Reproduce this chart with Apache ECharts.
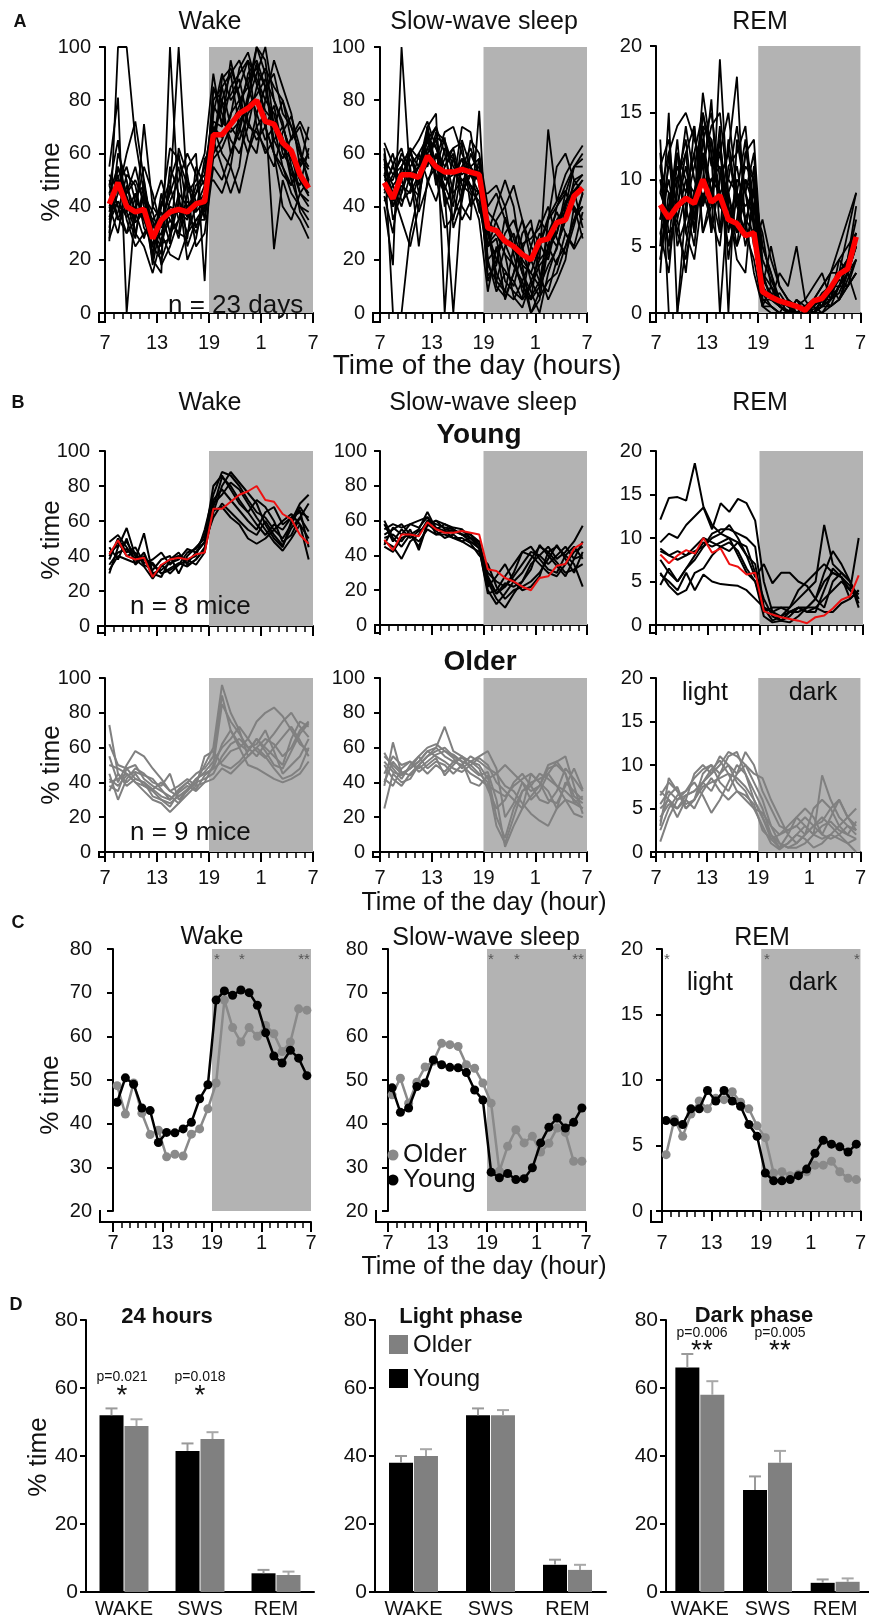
<!DOCTYPE html>
<html><head><meta charset="utf-8">
<script src="https://cdn.jsdelivr.net/npm/echarts@6/dist/echarts.min.js"></script>
<style>html,body{margin:0;padding:0;background:#fff}#c{width:869px;height:1621px}</style>
</head><body><div id="c"></div><script>
// ---------------- DATA ----------------
const hours = [0.5,1.5,2.5,3.5,4.5,5.5,6.5,7.5,8.5,9.5,10.5,11.5,12.5,13.5,14.5,15.5,16.5,17.5,18.5,19.5,20.5,21.5,22.5,23.5];
const xTickLabels = ['7','13','19','1','7'];

// A: mean of 23 days (red)
const A_wake_mean = [41,49,40,38,39,28,35,38,39,38,41,42,67,67,71,75,77,80,72,71,64,61,52,47];
const A_sws_mean  = [49,43,52,52,51,59,55,53,53,54,53,52,32,31,27,25,22,20,27,28,34,35,44,47];
const A_rem_mean  = [8.1,7.1,8.0,8.6,8.2,10.0,8.3,8.8,7.0,6.7,5.8,6.0,1.6,1.2,0.9,0.7,0.5,0.2,0.9,1.1,1.9,2.9,3.3,5.7];

// A: individual days (black)
const A_wake_d1  = [27,100,100,65,45,30,25,40,38,35,45,55,72,70,85,90,95,88,80,75,60,55,45,40];
const A_wake_d2  = [55,81,0,40,35,25,20,30,45,40,38,42,60,65,75,80,85,100,95,70,65,50,40,35];
const A_wake_d3  = [35,45,60,72,50,20,15,100,40,30,35,40,65,80,90,70,60,75,85,90,75,70,60,55];
const A_wake_d4  = [42,40,30,35,71,40,35,45,100,45,25,30,55,50,60,70,80,90,100,80,70,60,50,45];
const A_wake_d5  = [30,60,50,30,25,15,28,35,30,55,60,12,80,85,70,65,75,80,70,60,55,48,55,70];
const A_wake_d6  = [45,35,45,55,40,22,40,50,60,38,30,40,85,75,65,60,70,85,92,85,80,70,60,50];
const A_wake_d7  = [38,52,35,25,30,35,18,25,35,40,45,50,70,60,55,45,60,70,75,24,50,40,35,28];
const A_wake_d8  = [50,40,38,45,35,28,30,22,20,30,40,48,50,45,55,75,90,95,85,70,55,45,40,38];
const A_wake_d9  = [32,55,42,30,45,18,35,45,55,25,35,35,75,90,80,85,95,70,60,65,70,60,45,42];
const A_wake_d10 = [40,30,48,38,28,40,50,38,28,45,50,60,90,70,95,80,65,60,80,95,85,75,55,60];
const A_wake_d11 = [48,65,38,28,50,30,22,55,45,20,28,45,65,55,45,55,80,100,90,60,40,35,45,50];
const A_wake_d12 = [36,48,55,42,38,25,45,30,35,50,42,38,60,85,90,95,85,75,65,70,80,65,70,58];
const A_wake_d13 = [45,55,45,50,42,35,40,62,58,48,40,45,68,78,82,88,72,65,70,78,62,58,50,44];
const A_wake_d14 = [28,38,52,48,32,26,30,42,50,60,52,35,58,62,70,78,88,92,85,65,58,66,72,65];
const A_wake_d15 = [52,46,40,36,44,38,26,28,42,36,48,52,78,72,68,72,78,82,88,80,72,55,38,32];
const A_wake_d16 = [34,42,36,40,55,45,32,48,35,42,38,58,62,88,92,82,70,68,62,55,68,74,62,48];
const A_wake_d17 = [40,50,44,34,38,20,42,35,30,28,55,48,70,66,74,92,98,86,76,72,66,52,48,62];
const A_wake_d18 = [48,36,30,44,48,32,38,26,62,52,32,42,84,80,60,68,82,94,70,60,52,48,58,54];

const A_sws_d1  = [60,0,0,30,45,60,65,50,52,55,48,40,25,28,12,8,5,10,18,22,35,40,48,52];
const A_sws_d2  = [40,18,100,50,55,65,70,60,45,50,52,50,35,30,22,18,12,0,5,25,30,45,55,58];
const A_sws_d3  = [55,45,35,25,40,70,75,0,50,58,55,50,30,15,8,25,35,20,12,8,20,25,35,40];
const A_sws_d4  = [50,50,60,55,25,50,55,45,0,45,65,60,40,45,35,25,15,8,0,15,25,35,45,50];
const A_sws_d5  = [62,35,45,60,65,72,62,55,60,40,35,76,18,12,25,30,20,15,25,35,40,45,40,28];
const A_sws_d6  = [48,55,50,40,52,65,52,45,35,55,62,52,12,20,30,35,25,12,6,12,15,25,35,45];
const A_sws_d7  = [52,42,55,62,58,55,68,65,55,50,48,45,25,35,40,48,35,25,20,69,42,52,58,63];
const A_sws_d8  = [45,52,55,48,55,62,58,68,70,60,52,45,45,48,40,22,8,5,10,25,40,48,55,55];
const A_sws_d9  = [58,40,50,62,48,70,55,48,40,65,55,58,20,8,15,12,5,25,35,30,25,35,50,52];
const A_sws_d10 = [52,60,45,55,60,50,42,55,62,48,45,35,8,25,5,15,30,35,15,5,12,20,40,35];
const A_sws_d11 = [44,30,55,62,45,62,70,40,48,70,68,48,30,40,50,40,18,0,8,35,55,60,50,45];
const A_sws_d12 = [56,48,40,52,55,68,48,62,58,45,52,55,35,12,8,5,12,20,30,25,18,30,25,38];
const A_sws_d13 = [48,40,48,45,52,58,52,32,36,45,52,50,30,20,16,10,24,32,26,20,34,38,46,50];
const A_sws_d14 = [64,56,42,46,60,66,62,52,44,35,42,58,38,34,26,18,10,6,12,30,38,30,24,30];
const A_sws_d15 = [42,48,52,58,50,56,66,64,52,58,46,42,20,24,28,24,18,15,10,18,24,40,55,60];
const A_sws_d16 = [58,52,58,52,38,48,60,46,58,52,55,38,34,10,6,15,26,28,32,40,28,22,33,45];
const A_sws_d17 = [52,44,50,60,55,70,50,58,62,64,40,46,26,30,22,6,2,12,20,24,30,42,46,32];
const A_sws_d18 = [46,56,62,48,44,60,54,66,32,42,60,52,14,18,36,28,15,5,26,36,42,46,38,40];

const A_rem_d1  = [13,0,0,5,9,10,10,9,10,9,7,6,2,1,0.5,0.2,0,0,0.3,0.5,1,2,3,5];
const A_rem_d2  = [5,15,0,8,11,14,13,8,7,9,8,9,5,3,1,0.5,0,0,0,0.5,1.5,3,4,6];
const A_rem_d3  = [10,9,6,4,8,16.5,12,0,9,6,10,9,3,1,0.5,0,0,0,0.5,1,0.5,2,3,5];
const A_rem_d4  = [6,8,10,13,7,12,8,14,0,13,9,5,7,4,2,1,0.5,0,0,1,0.5,1,2,4];
const A_rem_d5  = [3,12,14,15,13,11,6,19,8,4,3,10,1,0.5,0,0,0,0,0,0.5,2,3,6,9];
const A_rem_d6  = [8,5,12,10,6,13,15,10,12,17.7,6,4,0.5,0,0,1,0,0.5,1,0.5,1,1.5,3,5];
const A_rem_d7  = [12,4,9,14,10,8,13,9,5,7,12,13,3,2,1,0.5,0.5,0,0,0,0.5,1,2,3];
const A_rem_d8  = [7,10,6,9,12,15,11,12,15,9,5,8,6,2,0.5,0,1,0.5,0,1,2,2,2,3];
const A_rem_d9  = [9,7,13,6,4,9,7,5,11,12,14,7,2,5,2,1,0,0.5,1,2,3,4,3,1];
const A_rem_d10 = [4,9,8,12,14,6,8,13,6,10,9,12,1,1,3,2,5,1,0,0.5,1,3,4,8];
const A_rem_d11 = [11,6,7,3,9,11,14,15,9,5,7,3,0.5,0.5,0,0,0,0,1,2,3,5,7,9];
const A_rem_d12 = [7,11,10,8,5,12,9,6,13,8,11,10,2,1,1,0.5,0.5,1,2,3,1,2,4,5];
const A_rem_d13 = [5,7,11,9,12,6,9,13,7,5,10,8,2.5,1.5,0.5,0,1,0,0.5,1.5,2,1,2.5,4];
const A_rem_d14 = [11,13,7,10,9,14,6,10,12,8,6,11,4,2.5,1,0.5,0,0,0.5,0,1,2,3.5,6];
const A_rem_d15 = [6,3,10,12,6,15,12,8,10,14,9,7,1.5,0.5,0,0,0,0.5,0,1,1.5,2.5,2,3];
const A_rem_d16 = [9,12,5,7,14,8,10,11,4,9,13,6,3,1,1.5,0.5,0,0.5,1,0.5,3,3,4,7];
const A_rem_d17 = [4,8,12,6,9,10,16,6,9,11,7,9,0.5,2,1,0,0.5,0,0,1,1,4,5,6];
const A_rem_d18 = [10,5,8,11,7,13,9,12,8,6,12,10,5,3,0.5,1,0.5,0,0,0.5,0.5,1,3,4];

// B: young mice (black)
const B_young_wake_m1 = [30,45,56,40,38,35,30,32,35,38,40,55,75,88,86,80,72,65,62,55,50,58,68,60];
const B_young_wake_m2 = [35,42,44,38,53,30,28,38,42,35,38,45,65,80,88,82,76,70,58,50,45,60,70,75];
const B_young_wake_m3 = [40,48,40,42,35,32,38,40,30,40,45,50,80,86,78,70,65,72,68,60,48,52,62,70];
const B_young_wake_m4 = [45,38,50,35,40,28,35,30,35,42,44,52,70,75,82,78,70,62,55,48,43,50,58,50];
const B_young_wake_m5 = [38,50,42,45,36,38,42,35,40,38,35,42,68,85,80,72,65,58,52,58,55,62,66,45];
const B_young_wake_m6 = [32,40,38,36,42,30,32,36,38,44,42,48,62,70,65,60,55,52,60,52,46,56,62,54];
const B_young_wake_m7 = [42,46,48,40,38,36,30,33,36,34,38,44,66,68,62,58,50,47,50,55,60,64,58,38];
const B_young_wake_m8 = [48,52,45,38,34,27,34,38,40,36,42,48,72,78,72,66,60,55,65,68,58,62,65,62];

const B_young_sws_m1 = [60,50,45,52,55,65,55,58,56,55,50,48,25,15,10,18,25,35,40,45,38,42,48,57];
const B_young_sws_m2 = [52,55,58,52,45,58,60,55,54,52,48,44,20,12,18,25,30,38,45,42,45,40,35,22];
const B_young_sws_m3 = [48,45,38,48,52,60,58,56,55,52,52,46,30,25,22,28,35,42,40,35,40,45,38,40];
const B_young_sws_m4 = [55,58,56,58,60,62,56,54,50,48,45,42,28,18,22,30,42,40,35,30,28,35,42,45];
const B_young_sws_m5 = [45,42,50,52,48,55,52,52,50,50,47,40,35,22,15,20,22,25,30,38,46,38,30,42];
const B_young_sws_m6 = [50,52,48,55,43,58,54,50,52,48,50,44,18,20,28,35,42,45,38,32,30,40,45,38];
const B_young_sws_m7 = [58,48,55,50,54,57,60,58,55,52,50,46,22,28,35,25,20,22,28,42,36,30,32,35];
const B_young_sws_m8 = [46,56,52,58,56,62,52,54,53,54,52,48,26,18,24,22,25,32,46,40,34,28,38,48];

const B_young_rem_m1 = [12.1,14.6,14.7,14.3,18.6,13.6,11.5,10.5,10,9.5,9,6,3,1,0.5,1,2,1.5,2,3,4,5,4,3];
const B_young_rem_m2 = [9.5,10.5,10,11.5,12.5,13.5,11,14,13,14.5,14,12,5,1.5,0.5,0.3,1,2,3,6,8.5,7,5,2];
const B_young_rem_m3 = [8.5,8,8.5,8,8.5,9,10.5,11,11,10.5,10,9,2,0.5,1,2,3,4,5,11.5,7,6,5,3];
const B_young_rem_m4 = [7.5,6,5,6.5,7.5,9,10,10.5,11.5,10,8,7,1.5,2,2,1.5,1.5,2,3,5,6,5.5,4,10];
const B_young_rem_m5 = [6,4.5,3.5,4,6,6.5,8,9,9.5,8.5,6.5,5,1,0.3,0.5,1.5,2,1.5,1.5,4,6.5,5.5,4.5,3.5];
const B_young_rem_m6 = [4.6,6.5,5,6.5,8,9.5,9,9.5,10,8,6,5,2,1.5,2,2,4,5,6,7,6,5.5,3,4];
const B_young_rem_m7 = [5.8,5,4,6,4,5.8,5,4.7,4.6,4.5,4,3,2,1.5,1,1.5,2,2,2,1.5,1.5,2.5,3,4];
const B_young_rem_m8 = [8.8,8,7.5,8,9,10,9.5,9,8.5,9.5,8,5.5,7,4.8,6,6,5,4.5,3,2,5,6,5,2.5];

// B: older mice (grey)
const B_older_wake_m1 = [73,45,40,45,38,35,30,28,32,35,40,50,60,96,80,70,55,60,65,62,55,60,70,75];
const B_older_wake_m2 = [62,50,48,42,40,36,32,30,36,40,45,48,55,90,70,62,58,65,60,55,50,65,75,72];
const B_older_wake_m3 = [55,40,50,58,55,48,42,35,38,42,38,40,50,85,75,68,60,62,70,58,45,50,55,65];
const B_older_wake_m4 = [45,30,42,48,45,40,38,45,30,35,42,45,48,62,70,60,65,75,80,83,78,70,62,58];
const B_older_wake_m5 = [40,42,45,40,35,30,28,23,28,36,40,42,45,55,62,65,60,55,62,68,75,80,72,66];
const B_older_wake_m6 = [38,35,48,50,42,38,35,32,28,33,38,55,58,50,48,52,58,65,58,50,48,58,68,74];
const B_older_wake_m7 = [35,45,38,42,40,32,30,26,34,38,35,40,42,48,45,50,55,60,55,48,42,44,48,60];
const B_older_wake_m8 = [50,48,45,40,38,36,40,35,32,36,42,46,52,60,65,72,65,58,54,60,66,72,64,55];
const B_older_wake_m9 = [42,38,44,46,44,42,36,30,35,40,36,44,48,52,58,60,50,48,45,42,40,42,45,52];

const B_older_sws_m1 = [25,45,40,42,50,55,58,60,55,52,50,45,40,15,5,20,35,40,42,45,38,30,22,20];
const B_older_sws_m2 = [38,63,45,48,52,58,60,55,52,54,52,55,58,48,20,28,40,35,38,50,52,45,32,28];
const B_older_sws_m3 = [50,42,38,45,50,55,60,72,58,55,48,44,46,30,3,15,25,45,40,35,25,30,28,32];
const B_older_sws_m4 = [57,48,42,50,55,48,52,50,45,50,55,52,48,45,50,45,40,30,35,45,52,55,38,22];
const B_older_sws_m5 = [45,55,50,52,48,52,56,58,54,48,52,50,42,45,38,35,28,22,18,15,25,40,35,30];
const B_older_sws_m6 = [55,50,45,48,55,60,62,58,56,52,40,38,44,20,8,25,35,38,45,42,38,35,30,25];
const B_older_sws_m7 = [42,38,48,52,46,50,54,44,50,55,52,48,36,25,30,40,45,38,30,28,35,48,42,35];
const B_older_sws_m8 = [52,46,44,48,52,58,55,52,48,46,50,54,50,40,35,30,25,32,38,48,50,45,28,25];
const B_older_sws_m9 = [40,52,46,44,50,45,50,46,52,50,45,42,38,35,32,38,42,45,40,30,28,38,48,36];

const B_older_rem_m1 = [1.2,4,6,6.5,7,8,9,10,11.5,11,10,8,6,3,1,0.5,1,2,3,4,3,2,1,0];
const B_older_rem_m2 = [3,8.5,7,5,6,8,7,9,11,11.5,9,6,4,1.5,0.5,2,4,3,2,8.8,6,4,3,2];
const B_older_rem_m3 = [5,6,4,6,9,10,9,11,10,9,10,9,8.5,6,4,2,1,2,5,6,5,3,2,1.5];
const B_older_rem_m4 = [6.5,8,7,5.5,6,9,10,8,7,9,11.5,10,7,5,3,2.5,3,4,3,2,4,6,4,2.5];
const B_older_rem_m5 = [2.5,5,6.5,7,8,6.5,4.5,6,8,10,9,7,5,2,0.5,1,2,3,2,1.5,2,3,4,5];
const B_older_rem_m6 = [4,5.5,5,6,5,7,8.5,7,6,7,6,5,3,1,0.3,1,2,1.5,0.5,1,2,1.5,1,1.5];
const B_older_rem_m7 = [5.5,7,6,7,8.5,9.5,10,9,10,8,7,5,4.5,3,2,2.5,3,2,3,3.5,5,6,4,3];
const B_older_rem_m8 = [7,6,5,6.5,7,8,9.5,10.5,9,8.5,7.5,6,4,2,1,0.5,0.5,1,2,3,3.5,2.5,2,3.5];
const B_older_rem_m9 = [3.5,6.5,7.5,5,6,7.5,8,8.5,9,7,6.5,5.5,2.5,1.5,2,3,4,5,4,2,1.5,2,3,2.5];

// C: group means
const C_wake_young = [44.9,50.5,49,43.6,43,35.7,38,37.9,38.8,40.3,45.7,48.9,68.3,70.4,69.4,70.6,70,67.1,60.8,55.5,53.9,56.8,55,51];
const C_wake_older = [48.7,42.2,49.3,42.4,37.5,38.5,32.4,33,32.6,37.6,38.8,43.4,49.3,68.3,62,58.7,62,60,62.5,60.6,56.5,58.7,66.3,66];
const C_sws_young  = [48.2,42.6,43.6,48.5,49.3,54.6,53.5,52.9,52.8,51.7,47.7,45.4,28.9,27.6,28.6,27.2,27.4,29.9,35.6,39.2,41.3,39,40.3,43.6];
const C_sws_older  = [46.6,50.4,44.7,49.5,53,54.3,58.4,58.1,57.7,53.5,52.7,49.3,44.7,29.1,34.8,38.6,35.6,37.1,33.5,35.5,39,38,31.4,31.4];
const C_rem_young  = [6.9,6.8,6.6,7.8,7.8,9.2,8.4,9.2,8.4,8,6.6,5.7,2.9,2.3,2.3,2.4,2.7,3.2,4.4,5.4,5.1,4.9,4.5,5.1];
const C_rem_older  = [4.3,7,5.7,7.4,8.4,7.8,8.6,8.5,9.1,8.3,7.8,6.5,5.6,2.9,3,2.7,2.8,3,3.5,3.5,3.8,3,2.5,2.4];

// D: bars (mean, SEM)
const D_cats = ['WAKE','SWS','REM'];
const D24_young = [52,41.5,5.5],  D24_young_err = [2,2.2,1];
const D24_older = [48.8,45,5],    D24_older_err = [2,2,1];
const DL_young  = [38,52,8],      DL_young_err  = [2,2,1.5];
const DL_older  = [40,52,6.5],    DL_older_err  = [2,1.5,1.5];
const DD_young  = [66,30,2.7],    DD_young_err  = [4,4,1];
const DD_older  = [58,38,3],      DD_older_err  = [4,3.5,1];

// ---------------- STYLE / LAYOUT ----------------
const FONT = '"Liberation Sans", Arial, Helvetica, sans-serif';
const SHADE = '#b3b3b3';
const GREY = '#808080';
const TXT = '#111';

const panels = [
  {left:105, top:47,  width:208, height:266, yoff:6,  xoff:9,  ymin:0,  ymax:100, yint:20, labels:true},
  {left:380, top:47,  width:207, height:266, yoff:7,  xoff:9,  ymin:0,  ymax:100, yint:20, labels:true},
  {left:656, top:46,  width:207, height:267, yoff:6,  xoff:9,  ymin:0,  ymax:20,  yint:5,  labels:true},
  {left:105, top:451, width:208, height:175, yoff:7,  xoff:7,  ymin:0,  ymax:100, yint:20, labels:false},
  {left:380, top:451, width:207, height:174, yoff:5,  xoff:8,  ymin:0,  ymax:100, yint:20, labels:false},
  {left:656, top:451, width:207, height:174, yoff:6,  xoff:8,  ymin:0,  ymax:20,  yint:5,  labels:false},
  {left:105, top:678, width:208, height:174, yoff:6,  xoff:5,  ymin:0,  ymax:100, yint:20, labels:true},
  {left:380, top:678, width:207, height:174, yoff:7,  xoff:5,  ymin:0,  ymax:100, yint:20, labels:true},
  {left:656, top:678, width:207, height:174, yoff:5,  xoff:5,  ymin:0,  ymax:20,  yint:5,  labels:true},
  {left:113, top:949, width:198, height:262, yoff:13, xoff:11, ymin:20, ymax:80,  yint:10, labels:true},
  {left:388, top:949, width:198, height:262, yoff:12, xoff:11, ymin:20, ymax:80,  yint:10, labels:true},
  {left:662, top:949, width:200, height:262, yoff:11, xoff:11, ymin:0,  ymax:20,  yint:5,  labels:true}
];
const barPanels = [
  {left:86,  top:1320, width:228, height:272},
  {left:375, top:1320, width:231, height:272},
  {left:666, top:1320, width:216, height:272}
];

const grids = [], xAxes = [], yAxes = [], series = [], graphics = [];
const axisLine = {show:true, lineStyle:{color:'#000', width:2}};

panels.forEach((p, gi) => {
  grids.push({left:p.left, top:p.top, width:p.width, height:p.height, containLabel:false});
  xAxes.push({type:'value', gridIndex:gi, min:0, max:24, interval:6, offset:p.xoff,
    axisLine, axisTick:{show:true, length:10, lineStyle:{color:'#000', width:2}},
    minorTick:{show:true, splitNumber:6, length:6, lineStyle:{color:'#000', width:1.5}},
    splitLine:{show:false}, minorSplitLine:{show:false},
    axisLabel:{show:p.labels, formatter:v => xTickLabels[Math.round(v/6)], fontSize:20, color:TXT, fontFamily:FONT, margin:11}});
  yAxes.push({type:'value', gridIndex:gi, min:p.ymin, max:p.ymax, interval:p.yint, offset:p.yoff,
    axisLine, axisTick:{show:true, length:6, lineStyle:{color:'#000', width:2}},
    splitLine:{show:false},
    axisLabel:{fontSize:20, color:TXT, fontFamily:FONT, margin:8}});
  const yx = p.left - p.yoff, bottom = p.top + p.height, xy = bottom + p.xoff;
  graphics.push({type:'polyline', silent:true, z:50, shape:{points:[[yx, bottom-1],[yx, xy],[p.left+1, xy]]},
    style:{stroke:'#000', lineWidth:2, fill:null}});
});

const pair = a => a.map((v, i) => [hours[i], v]);
function shade(gi, ymin){
  series.push({type:'line', xAxisIndex:gi, yAxisIndex:gi, data:[[12, ymin]], symbol:'none', silent:true, z:1,
    lineStyle:{width:0}, markArea:{silent:true, itemStyle:{color:SHADE, opacity:1}, data:[[{xAxis:12},{xAxis:24}]]}});
}
function lines(gi, arrs, color, width, z){
  arrs.forEach(a => series.push({type:'line', xAxisIndex:gi, yAxisIndex:gi, data:pair(a), symbol:'none', silent:true, z,
    lineStyle:{color, width}}));
}
function dots(gi, arr, color, z){
  series.push({type:'line', xAxisIndex:gi, yAxisIndex:gi, data:pair(arr), symbol:'circle', symbolSize:9, silent:true, z,
    itemStyle:{color}, lineStyle:{color, width:2.5}});
}

for (let gi = 0; gi < 12; gi++) shade(gi, panels[gi].ymin);

// A
lines(0, [A_wake_d1,A_wake_d2,A_wake_d3,A_wake_d4,A_wake_d5,A_wake_d6,A_wake_d7,A_wake_d8,A_wake_d9,A_wake_d10,A_wake_d11,A_wake_d12,A_wake_d13,A_wake_d14,A_wake_d15,A_wake_d16,A_wake_d17,A_wake_d18], '#000', 1.8, 2);
lines(1, [A_sws_d1,A_sws_d2,A_sws_d3,A_sws_d4,A_sws_d5,A_sws_d6,A_sws_d7,A_sws_d8,A_sws_d9,A_sws_d10,A_sws_d11,A_sws_d12,A_sws_d13,A_sws_d14,A_sws_d15,A_sws_d16,A_sws_d17,A_sws_d18], '#000', 1.8, 2);
lines(2, [A_rem_d1,A_rem_d2,A_rem_d3,A_rem_d4,A_rem_d5,A_rem_d6,A_rem_d7,A_rem_d8,A_rem_d9,A_rem_d10,A_rem_d11,A_rem_d12,A_rem_d13,A_rem_d14,A_rem_d15,A_rem_d16,A_rem_d17,A_rem_d18], '#000', 1.8, 2);
lines(0, [A_wake_mean], '#ff0000', 5.5, 3);
lines(1, [A_sws_mean], '#ff0000', 5.5, 3);
lines(2, [A_rem_mean], '#ff0000', 5.5, 3);
// B young
lines(3, [B_young_wake_m1,B_young_wake_m2,B_young_wake_m3,B_young_wake_m4,B_young_wake_m5,B_young_wake_m6,B_young_wake_m7,B_young_wake_m8], '#000', 2, 2);
lines(4, [B_young_sws_m1,B_young_sws_m2,B_young_sws_m3,B_young_sws_m4,B_young_sws_m5,B_young_sws_m6,B_young_sws_m7,B_young_sws_m8], '#000', 2, 2);
lines(5, [B_young_rem_m1,B_young_rem_m2,B_young_rem_m3,B_young_rem_m4,B_young_rem_m5,B_young_rem_m6,B_young_rem_m7,B_young_rem_m8], '#000', 2, 2);
lines(3, [A_wake_mean], '#ee1111', 2, 3);
lines(4, [A_sws_mean], '#ee1111', 2, 3);
lines(5, [A_rem_mean], '#ee1111', 2, 3);
// B older
lines(6, [B_older_wake_m1,B_older_wake_m2,B_older_wake_m3,B_older_wake_m4,B_older_wake_m5,B_older_wake_m6,B_older_wake_m7,B_older_wake_m8,B_older_wake_m9], GREY, 2, 2);
lines(7, [B_older_sws_m1,B_older_sws_m2,B_older_sws_m3,B_older_sws_m4,B_older_sws_m5,B_older_sws_m6,B_older_sws_m7,B_older_sws_m8,B_older_sws_m9], GREY, 2, 2);
lines(8, [B_older_rem_m1,B_older_rem_m2,B_older_rem_m3,B_older_rem_m4,B_older_rem_m5,B_older_rem_m6,B_older_rem_m7,B_older_rem_m8,B_older_rem_m9], GREY, 2, 2);
// C
dots(9, C_wake_older, '#8a8a8a', 2);  dots(9, C_wake_young, '#000', 3);
dots(10, C_sws_older, '#8a8a8a', 2);  dots(10, C_sws_young, '#000', 3);
dots(11, C_rem_older, '#8a8a8a', 2);  dots(11, C_rem_young, '#000', 3);

// D bar panels
const barSets = [
  [D24_young, D24_young_err, D24_older, D24_older_err],
  [DL_young, DL_young_err, DL_older, DL_older_err],
  [DD_young, DD_young_err, DD_older, DD_older_err]
];
function errRender(offset, color){
  return function(params, api){
    const i = api.value(0), m = api.value(1), e = api.value(2);
    const p0 = api.coord([i, m]), p1 = api.coord([i, m + e]);
    const x = p0[0] + offset;
    return {type:'group', children:[
      {type:'line', shape:{x1:x, y1:p0[1], x2:x, y2:p1[1]}, style:{stroke:color, lineWidth:2}},
      {type:'line', shape:{x1:x-6, y1:p1[1], x2:x+6, y2:p1[1]}, style:{stroke:color, lineWidth:2}}
    ]};
  };
}
barPanels.forEach((p, k) => {
  const gi = 12 + k;
  grids.push({left:p.left, top:p.top, width:p.width, height:p.height, containLabel:false});
  xAxes.push({type:'category', gridIndex:gi, data:D_cats, axisLine, axisTick:{show:false},
    axisLabel:{interval:0, fontSize:20, color:TXT, fontFamily:FONT, margin:7}});
  yAxes.push({type:'value', gridIndex:gi, min:0, max:80, interval:20, axisLine,
    axisTick:{show:true, length:6, lineStyle:{color:'#000', width:2}}, splitLine:{show:false},
    axisLabel:{fontSize:21, color:TXT, fontFamily:FONT, margin:8}});
  const [ym, ye, om, oe] = barSets[k];
  series.push({type:'bar', xAxisIndex:gi, yAxisIndex:gi, data:ym, barWidth:24, barGap:'4%', itemStyle:{color:'#000'}, silent:true, z:2});
  series.push({type:'bar', xAxisIndex:gi, yAxisIndex:gi, data:om, barWidth:24, barGap:'4%', itemStyle:{color:GREY}, silent:true, z:2});
  series.push({type:'custom', xAxisIndex:gi, yAxisIndex:gi, renderItem:errRender(-12.5, '#9a9a9a'),
    data:ym.map((v, i) => [i, v, ye[i]]), encode:{x:0, y:1}, silent:true, z:4});
  series.push({type:'custom', xAxisIndex:gi, yAxisIndex:gi, renderItem:errRender(12.5, '#a8a8a8'),
    data:om.map((v, i) => [i, v, oe[i]]), encode:{x:0, y:1}, silent:true, z:4});
});

// ---------------- TEXT ----------------
function T(text, x, y, size, o = {}){
  const al = o.align || 'center';
  return {type:'text', x, y, rotation:o.rot || 0, z:100, silent:true,
    style:{text, fontSize:size, fontFamily:FONT, fontWeight:o.bold ? 'bold' : 'normal', fill:o.color || TXT,
      align:al, verticalAlign:'middle', textAlign:al, textVerticalAlign:'middle'}};
}
graphics.push(
  T('A', 20, 22, 18, {bold:true}), T('B', 18, 403, 18, {bold:true}), T('C', 18, 923, 18, {bold:true}), T('D', 16, 1305, 18, {bold:true}),
  // A
  T('Wake', 210, 22, 25), T('Slow-wave sleep', 484, 22, 25), T('REM', 760, 22, 25),
  T('% time', 52, 182, 26, {rot:Math.PI/2}),
  T('n = 23 days', 168, 306, 26, {align:'left'}),
  T('Time of the day (hours)', 477, 366, 28),
  // B
  T('Wake', 210, 403, 25), T('Slow-wave sleep', 483, 403, 25), T('REM', 760, 403, 25),
  T('Young', 479, 435, 28, {bold:true}), T('Older', 480, 662, 28, {bold:true}),
  T('% time', 52, 540, 26, {rot:Math.PI/2}), T('% time', 52, 765, 26, {rot:Math.PI/2}),
  T('n = 8 mice', 130, 607, 26, {align:'left'}), T('n = 9 mice', 130, 833, 26, {align:'left'}),
  T('light', 705, 693, 25), T('dark', 813, 693, 25),
  T('Time of the day (hour)', 484, 903, 25),
  // C
  T('Wake', 212, 937, 25), T('Slow-wave sleep', 486, 938, 25), T('REM', 762, 938, 25),
  T('% time', 51, 1095, 26, {rot:Math.PI/2}),
  T('light', 710, 983, 25), T('dark', 813, 983, 25),
  T('*', 217, 960, 15, {color:'#555'}), T('*', 242, 960, 15, {color:'#555'}), T('**', 304, 960, 15, {color:'#555'}),
  T('*', 491, 960, 15, {color:'#555'}), T('*', 517, 960, 15, {color:'#555'}), T('**', 578, 960, 15, {color:'#555'}),
  T('*', 667, 960, 15, {color:'#555'}), T('*', 767, 960, 15, {color:'#555'}), T('*', 857, 960, 15, {color:'#555'}),
  T('Older', 403, 1155, 26, {align:'left'}), T('Young', 403, 1180, 26, {align:'left'}),
  T('Time of the day (hour)', 484, 1267, 25),
  // D
  T('24 hours', 167, 1317, 22, {bold:true}), T('Light phase', 461, 1317, 22, {bold:true}), T('Dark phase', 754, 1316, 22, {bold:true}),
  T('% time', 39, 1457, 26, {rot:Math.PI/2}),
  T('p=0.021', 122, 1377, 14), T('*', 122, 1396, 28), T('p=0.018', 200, 1377, 14), T('*', 200, 1396, 28),
  T('p=0.006', 702, 1333, 14), T('**', 702, 1351, 28), T('p=0.005', 780, 1333, 14), T('**', 780, 1351, 28),
  T('Older', 413, 1345, 24, {align:'left'}), T('Young', 413, 1379, 24, {align:'left'})
);
graphics.push(
  {type:'circle', silent:true, z:100, shape:{cx:393, cy:1155, r:5.5}, style:{fill:'#8a8a8a'}},
  {type:'circle', silent:true, z:100, shape:{cx:393, cy:1180, r:5.5}, style:{fill:'#000'}},
  {type:'rect', silent:true, z:100, shape:{x:389, y:1335, width:19, height:19}, style:{fill:GREY}},
  {type:'rect', silent:true, z:100, shape:{x:389, y:1369, width:19, height:19}, style:{fill:'#000'}}
);

const chart = echarts.init(document.getElementById('c'), null, {renderer:'canvas'});
chart.setOption({
  animation:false, backgroundColor:'#fff',
  grid:grids, xAxis:xAxes, yAxis:yAxes, series, graphic:{elements:graphics}
});
</script></body></html>
